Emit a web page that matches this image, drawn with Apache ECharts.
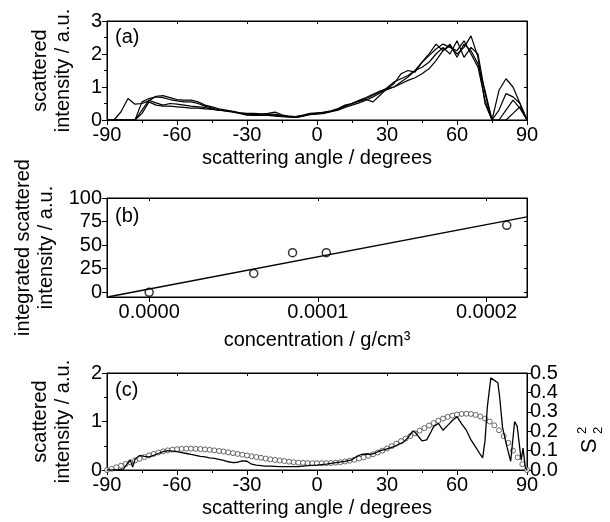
<!DOCTYPE html>
<html><head><meta charset="utf-8">
<script src="https://cdn.jsdelivr.net/npm/echarts@6/dist/echarts.min.js"></script>
<style>html,body{margin:0;padding:0;background:#fff}#c{width:610px;height:522px}</style>
</head><body><div id="c"></div>
<script>
// ---------- Panel (a): scattered intensity vs angle, several runs ----------
const anglesA = [-90,-87,-84,-81,-78,-75,-72,-69,-66,-63,-60,-57,-54,-51,-48,-45,-42,-39,-36,-33,-30,-27,-24,-21,-18,-15,-12,-9,-6,-3,0,3,6,9,12,15,18,21,24,27,30,33,36,39,42,45,48,51,54,57,60,63,66,69,72,75,78,81,84,87,90];
const runA1 = [0,0,0.25,0.65,0.48,0.5,0.58,0.72,0.74,0.68,0.62,0.6,0.6,0.55,0.45,0.4,0.34,0.3,0.26,0.22,0.18,0.16,0.17,0.2,0.24,0.16,0.1,0.08,0.12,0.18,0.2,0.22,0.26,0.32,0.42,0.5,0.56,0.62,0.55,0.75,0.95,1.1,1.4,1.5,1.45,1.75,2.0,2.3,2.1,2.25,2.0,2.2,2.55,1.9,0.5,0,0.9,1.25,1.0,0.5,0];
const runA2 = [0,0,0,0,0,0.55,0.65,0.7,0.68,0.62,0.58,0.55,0.55,0.5,0.42,0.36,0.3,0.28,0.25,0.2,0.15,0.14,0.15,0.14,0.12,0.1,0.09,0.08,0.12,0.16,0.18,0.2,0.25,0.3,0.38,0.45,0.52,0.6,0.7,0.82,0.98,1.15,1.25,1.35,1.5,1.6,1.75,2.0,2.2,2.0,2.4,1.9,2.2,2.0,0.8,0,0,0.3,0.6,0.35,0];
const runA3 = [0,0,0,0,0,0.3,0.6,0.52,0.45,0.5,0.48,0.45,0.42,0.4,0.38,0.33,0.3,0.27,0.24,0.2,0.17,0.15,0.15,0.16,0.15,0.12,0.1,0.1,0.13,0.18,0.2,0.24,0.28,0.35,0.45,0.5,0.6,0.68,0.78,0.88,0.95,1.0,1.1,1.2,1.28,1.4,1.55,1.8,2.1,2.3,1.9,2.3,2.1,1.7,0.9,0,0.3,0.8,0.7,0.5,0];
const runA4 = [0,0,0,0,0,0.2,0.55,0.45,0.42,0.42,0.4,0.38,0.36,0.36,0.34,0.32,0.3,0.28,0.25,0.22,0.2,0.2,0.19,0.18,0.17,0.14,0.12,0.1,0.15,0.2,0.22,0.22,0.27,0.33,0.42,0.5,0.58,0.65,0.75,0.85,0.92,1.0,1.15,1.3,1.5,1.75,1.95,2.15,2.3,2.2,2.1,2.4,2.0,1.6,0.6,0,0,0,0.2,0.4,0];

// ---------- Panel (b): integrated intensity vs concentration ----------
const concB = [0, 0.000062, 0.000085, 0.000105, 0.000212];
const integB = [0, 20, 42, 42, 71];
const fitConcB = [-0.000024, 0.000224];
const fitIntB = [-4.8, 80];
const ticksB_x = [0, 0.0001, 0.0002];
const ticksB_y = [0, 25, 50, 75, 100];

// ---------- Panel (c): intensity (line) and S2^2 (circles) ----------
const anglesC = [-90,-86,-83,-81,-80,-79,-78,-76,-74,-72,-70,-68,-66,-64,-62,-60,-58,-56,-54,-52,-50,-48,-46,-44,-42,-40,-38,-36,-34,-32,-30,-28,-26,-24,-22,-20,-16,-12,-8,-4,0,4,8,12,15,17,19,21,23,25,27,29,31,33,35,37,39,41,42,44,45,47,49,50,52,54,56,58,60,62,64,66,68,70,71,72,73,74.5,77.5,78.3,79.5,81.5,83,84.7,85.8,86.9,87.5,88.3,89.3,90];
const intensityC = [0,0,0.02,0.15,0.2,0.06,0.22,0.3,0.28,0.27,0.3,0.34,0.38,0.4,0.39,0.38,0.36,0.34,0.32,0.3,0.28,0.27,0.25,0.24,0.22,0.2,0.17,0.15,0.16,0.19,0.18,0.12,0.1,0.09,0.08,0.08,0.07,0.07,0.07,0.09,0.1,0.12,0.15,0.18,0.21,0.28,0.32,0.33,0.32,0.35,0.4,0.42,0.45,0.48,0.53,0.57,0.67,0.8,0.78,0.66,0.6,0.62,0.8,0.9,0.96,0.82,0.92,1.02,1.1,0.95,0.82,0.62,0.47,0.32,0.25,0.6,1.3,1.9,1.8,1.5,0.88,0.46,0.18,1.0,0.9,0.45,0.2,0.45,0.05,0];
const anglesS = [-90,-88,-86,-84,-82,-80,-78,-76,-74,-72,-70,-68,-66,-64,-62,-60,-58,-56,-54,-52,-50,-48,-46,-44,-42,-40,-38,-36,-34,-32,-30,-28,-26,-24,-22,-20,-18,-16,-14,-12,-10,-8,-6,-4,-2,0,2,4,6,8,10,12,14,16,18,20,22,24,26,28,30,32,34,36,38,40,42,44,46,48,50,52,54,56,58,60,62,64,66,68,70,72,74,76,78,80,82,84,86,88,90];
const s2C = [0,0.006,0.014,0.022,0.031,0.04,0.049,0.058,0.067,0.075,0.083,0.09,0.096,0.101,0.105,0.107,0.109,0.11,0.11,0.109,0.108,0.106,0.104,0.101,0.098,0.095,0.091,0.087,0.083,0.079,0.075,0.071,0.067,0.063,0.059,0.055,0.052,0.049,0.046,0.043,0.04,0.038,0.037,0.036,0.035,0.035,0.035,0.035,0.036,0.038,0.04,0.044,0.048,0.053,0.059,0.065,0.073,0.081,0.09,0.1,0.111,0.123,0.136,0.149,0.162,0.175,0.189,0.203,0.216,0.229,0.242,0.254,0.265,0.274,0.281,0.286,0.289,0.29,0.289,0.284,0.276,0.265,0.25,0.23,0.205,0.175,0.14,0.1,0.065,0.03,0];
const ticksS2 = [0, 0.1, 0.2, 0.3, 0.4, 0.5];
const ticksS2even = [0, 0.2, 0.4];
const ticksS2odd = [0.1, 0.3, 0.5];

const FONT = 'Liberation Sans';
const pair = (xs, ys) => xs.map((x, i) => [x, ys[i]]);

const lbl = {color:'#000', fontSize:20, fontFamily:FONT};
const axLine = {show:true, onZero:false, lineStyle:{color:'#000', width:1}};
const tick = {show:true, length:5, lineStyle:{color:'#000'}};
const tickIn = {show:true, inside:true, length:3, lineStyle:{color:'#000'}};
const minor = {show:true, splitNumber:2, length:3, lineStyle:{color:'#000'}};
const nameStyle = {color:'#000', fontSize:20, fontFamily:FONT, lineHeight:23};

const grids = [
  {left:107, right:83, top:21, height:99},
  {left:107, right:83, top:198, height:99},
  {left:107, right:83, top:373, height:97}
].map(g => Object.assign(g, {show:true, borderColor:'#000', borderWidth:1, containLabel:false}));

const angleAxis = (gi, gap) => ({
  type:'value', gridIndex:gi, min:-90, max:90, interval:30,
  axisLine:axLine, axisTick:tick, minorTick:minor, splitLine:{show:false},
  axisLabel:Object.assign({margin:5}, lbl),
  name:'scattering angle / degrees', nameLocation:'middle', nameGap:gap, nameTextStyle:nameStyle
});
const mirrorX = (gi, extra) => Object.assign({
  type:'value', gridIndex:gi, position:'top', axisLine:axLine, axisTick:tickIn,
  axisLabel:{show:false}, splitLine:{show:false}
}, extra);
const mirrorY = (gi, extra) => Object.assign({
  type:'value', gridIndex:gi, position:'right', axisLine:axLine, axisTick:tickIn,
  axisLabel:{show:false}, splitLine:{show:false}
}, extra);
const s2Axis = (vals, withLine) => ({
  type:'value', gridIndex:2, position:'right', min:0, max:0.5,
  axisLine:Object.assign({}, axLine, {show:withLine}), splitLine:{show:false},
  axisTick:Object.assign({customValues:ticksS2}, tick, {show:withLine}),
  axisLabel:Object.assign({margin:3, customValues:vals, showMinLabel:true, showMaxLabel:true, formatter:v => v.toFixed(1)}, lbl)
});

const option = {
  animation:false,
  backgroundColor:'#fff',
  grid:grids,
  xAxis:[
    angleAxis(0, 27),
    {type:'value', gridIndex:1, min:-0.000025, max:0.000224,
     axisLine:axLine, splitLine:{show:false},
     axisTick:Object.assign({customValues:ticksB_x}, tick),
     axisLabel:Object.assign({margin:5, customValues:ticksB_x, formatter:v => v.toFixed(4)}, lbl),
     name:'concentration / g/cm³', nameLocation:'middle', nameGap:32, nameTextStyle:nameStyle},
    angleAxis(2, 27),
    mirrorX(0, {min:-90, max:90, interval:30}),
    mirrorX(1, {min:-0.000025, max:0.000224, axisTick:Object.assign({customValues:ticksB_x}, tickIn)}),
    mirrorX(2, {min:-90, max:90, interval:30})
  ],
  yAxis:[
    {type:'value', gridIndex:0, min:0, max:3, interval:1,
     axisLine:axLine, axisTick:tick, minorTick:minor, splitLine:{show:false},
     axisLabel:Object.assign({margin:5}, lbl),
     name:'scattered\nintensity / a.u.', nameLocation:'middle', nameRotate:90, nameGap:32, nameTextStyle:nameStyle},
    {type:'value', gridIndex:1, min:-5, max:100,
     axisLine:axLine, splitLine:{show:false},
     axisTick:Object.assign({customValues:ticksB_y}, tick),
     axisLabel:Object.assign({margin:5, customValues:ticksB_y}, lbl),
     name:'integrated scattered\nintensity / a.u.', nameLocation:'middle', nameRotate:90, nameGap:43, nameTextStyle:nameStyle},
    {type:'value', gridIndex:2, min:0, max:2, interval:1,
     axisLine:axLine, axisTick:tick, minorTick:minor, splitLine:{show:false},
     axisLabel:Object.assign({margin:5}, lbl),
     name:'scattered\nintensity / a.u.', nameLocation:'middle', nameRotate:90, nameGap:32, nameTextStyle:nameStyle},
    s2Axis(ticksS2even, true),
    mirrorY(0, {min:0, max:3, interval:1}),
    mirrorY(1, {min:-5, max:100, axisTick:Object.assign({customValues:ticksB_y}, tickIn)}),
    s2Axis(ticksS2odd, false)
  ],
  series:[
    ...[runA1, runA2, runA3, runA4].map(r => ({
      type:'line', xAxisIndex:0, yAxisIndex:0, data:pair(anglesA, r), showSymbol:false,
      lineStyle:{color:'#000', width:1.2}, silent:true
    })),
    {type:'line', xAxisIndex:1, yAxisIndex:1, data:pair(fitConcB, fitIntB), showSymbol:false,
     lineStyle:{color:'#000', width:1.4}},
    {type:'scatter', xAxisIndex:1, yAxisIndex:1, data:pair(concB, integB), symbol:'circle', symbolSize:8,
     itemStyle:{color:'#fff', borderColor:'#000', borderWidth:1.5}},
    {type:'line', xAxisIndex:2, yAxisIndex:2, data:pair(anglesC, intensityC), showSymbol:false,
     lineStyle:{color:'#000', width:1.3}},
    {type:'scatter', xAxisIndex:2, yAxisIndex:3, data:pair(anglesS, s2C), symbol:'circle', symbolSize:5,
     itemStyle:{color:'#fff', borderColor:'#444', borderWidth:1}}
  ],
  graphic:[
    {type:'text', left:115, top:27, style:{text:'(a)', fontSize:20, fontFamily:FONT, fill:'#000'}},
    {type:'text', left:115, top:206, style:{text:'(b)', fontSize:20, fontFamily:FONT, fill:'#000'}},
    {type:'text', left:115, top:380, style:{text:'(c)', fontSize:20, fontFamily:FONT, fill:'#000'}},
    {type:'group', x:590, y:446, rotation:Math.PI/2, children:[
      {type:'text', x:0, y:0, style:{text:'S', fontSize:22, fontFamily:FONT, fill:'#000', align:'center', verticalAlign:'middle'}},
      {type:'text', x:12, y:-8, style:{text:'2', fontSize:13, fontFamily:FONT, fill:'#000', align:'left', verticalAlign:'middle'}},
      {type:'text', x:12, y:8, style:{text:'2', fontSize:13, fontFamily:FONT, fill:'#000', align:'left', verticalAlign:'middle'}}
    ]}
  ]
};
echarts.init(document.getElementById('c')).setOption(option);
</script></body></html>
